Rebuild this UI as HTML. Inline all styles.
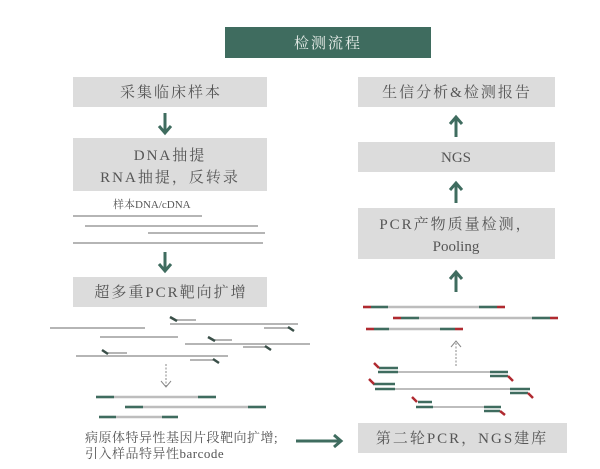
<!DOCTYPE html>
<html><head><meta charset="utf-8"><style>
html,body{margin:0;padding:0;background:#fff;}
svg{display:block;}
text{font-family:"Liberation Serif","Noto Serif CJK SC",serif;fill:#555;}
.b{letter-spacing:2px;}
</style></head><body>
<svg width="600" height="469" viewBox="0 0 600 469" xmlns="http://www.w3.org/2000/svg">
<!-- title -->
<rect x="225" y="27" width="206" height="31" fill="#3f6c5f"/>
<text x="328" y="48" text-anchor="middle" font-size="15" class="b" style="fill:#e6ece8">检测流程</text>

<!-- left boxes -->
<rect x="73" y="77" width="194" height="30" fill="#dcdcdc"/>
<text x="171" y="97" text-anchor="middle" font-size="15" class="b">采集临床样本</text>
<rect x="73" y="138" width="194" height="53" fill="#dcdcdc"/>
<text x="170" y="160" text-anchor="middle" font-size="15" class="b">DNA抽提</text>
<text x="170" y="182" text-anchor="middle" font-size="15" class="b">RNA抽提，反转录</text>
<rect x="73" y="277" width="194" height="30" fill="#dcdcdc"/>
<text x="171" y="297" text-anchor="middle" font-size="15" class="b">超多重PCR靶向扩增</text>

<!-- right boxes -->
<rect x="358" y="77" width="197" height="30" fill="#dcdcdc"/>
<text x="457" y="97" text-anchor="middle" font-size="15" class="b">生信分析&amp;检测报告</text>
<rect x="358" y="142" width="197" height="30" fill="#dcdcdc"/>
<text x="456" y="162" text-anchor="middle" font-size="15">NGS</text>
<rect x="358" y="208" width="197" height="51" fill="#dcdcdc"/>
<text x="456" y="229" text-anchor="middle" font-size="15" class="b">PCR产物质量检测，</text>
<text x="456" y="251" text-anchor="middle" font-size="15">Pooling</text>
<rect x="358" y="423" width="209" height="30" fill="#dcdcdc"/>
<text x="462" y="443" text-anchor="middle" font-size="15" class="b">第二轮PCR，NGS建库</text>

<!-- green arrows -->
<g stroke="#3f6c5f" stroke-width="3" fill="none">
<line x1="165" y1="113" x2="165" y2="132"/><polyline points="159,126 165,133 171,126"/>
<line x1="165" y1="252" x2="165" y2="270"/><polyline points="159,264 165,271 171,264"/>
<line x1="456" y1="137" x2="456" y2="118"/><polyline points="450,124 456,117 462,124"/>
<line x1="456" y1="203" x2="456" y2="184"/><polyline points="450,190 456,183 462,190"/>
<line x1="456" y1="292" x2="456" y2="273"/><polyline points="450,279 456,272 462,279"/>
<line x1="296" y1="441" x2="340" y2="441"/><polyline points="334,435 341,441 334,447"/>
</g>

<!-- sample label and lines -->
<text x="113" y="208" font-size="11">样本DNA/cDNA</text>
<g stroke="#b5b5b5" stroke-width="2">
<line x1="73" y1="216" x2="202" y2="216"/>
<line x1="85" y1="226" x2="258" y2="226"/>
<line x1="148" y1="233" x2="265" y2="233"/>
<line x1="73" y1="243" x2="263" y2="243"/>
</g>

<!-- left multiplex lines -->
<g stroke="#b5b5b5" stroke-width="2">
<line x1="50" y1="328" x2="145" y2="328"/>
<line x1="170" y1="324" x2="298" y2="324"/>
<line x1="177" y1="320" x2="196" y2="320"/>
<line x1="264" y1="328" x2="290" y2="328"/>
<line x1="100" y1="337" x2="178" y2="337"/>
<line x1="185" y1="344" x2="310" y2="344"/>
<line x1="215" y1="340" x2="232" y2="340"/>
<line x1="243" y1="347" x2="265" y2="347"/>
<line x1="76" y1="356" x2="228" y2="356"/>
<line x1="108" y1="353" x2="127" y2="353"/>
<line x1="190" y1="360" x2="213" y2="360"/>
</g>
<g stroke="#3a4f48" stroke-width="2.5">
<line x1="170" y1="317" x2="177" y2="321"/>
<line x1="288" y1="327" x2="294" y2="331"/>
<line x1="208" y1="337" x2="215" y2="341"/>
<line x1="265" y1="346" x2="271" y2="350"/>
<line x1="102" y1="350" x2="108" y2="354"/>
<line x1="213" y1="359" x2="219" y2="363"/>
</g>

<!-- dotted arrows -->
<g stroke="#888" stroke-width="1" fill="none">
<line x1="166" y1="364" x2="166" y2="387" stroke-dasharray="2,1.5"/>
<polyline points="161,381 166,387 171,381"/>
<line x1="456" y1="366" x2="456" y2="342" stroke-dasharray="2,1.5"/>
<polyline points="451,347 456,341 461,347"/>
</g>

<!-- left barcoded lines -->
<g stroke-width="2.5">
<line x1="96" y1="397" x2="216" y2="397" stroke="#bdbdbd"/>
<line x1="96" y1="397" x2="114" y2="397" stroke="#3f6c5f"/><line x1="198" y1="397" x2="216" y2="397" stroke="#3f6c5f"/>
<line x1="125" y1="407" x2="266" y2="407" stroke="#bdbdbd"/>
<line x1="125" y1="407" x2="143" y2="407" stroke="#3f6c5f"/><line x1="248" y1="407" x2="266" y2="407" stroke="#3f6c5f"/>
<line x1="99" y1="417" x2="178" y2="417" stroke="#bdbdbd"/>
<line x1="99" y1="417" x2="116" y2="417" stroke="#3f6c5f"/><line x1="162" y1="417" x2="178" y2="417" stroke="#3f6c5f"/>
</g>
<text x="85" y="442" font-size="13" letter-spacing="0.5">病原体特异性基因片段靶向扩增;</text>
<text x="85" y="458" font-size="13" letter-spacing="0.5">引入样品特异性barcode</text>

<!-- right top library lines -->
<g stroke-width="2.5">
<line x1="363" y1="307" x2="505" y2="307" stroke="#bdbdbd"/>
<line x1="363" y1="307" x2="371" y2="307" stroke="#b02a30"/><line x1="371" y1="307" x2="388" y2="307" stroke="#3f6c5f"/>
<line x1="479" y1="307" x2="497" y2="307" stroke="#3f6c5f"/><line x1="497" y1="307" x2="505" y2="307" stroke="#b02a30"/>
<line x1="393" y1="318" x2="558" y2="318" stroke="#bdbdbd"/>
<line x1="393" y1="318" x2="401" y2="318" stroke="#b02a30"/><line x1="401" y1="318" x2="419" y2="318" stroke="#3f6c5f"/>
<line x1="532" y1="318" x2="550" y2="318" stroke="#3f6c5f"/><line x1="550" y1="318" x2="558" y2="318" stroke="#b02a30"/>
<line x1="366" y1="329" x2="463" y2="329" stroke="#bdbdbd"/>
<line x1="366" y1="329" x2="374" y2="329" stroke="#b02a30"/><line x1="374" y1="329" x2="389" y2="329" stroke="#3f6c5f"/>
<line x1="440" y1="329" x2="455" y2="329" stroke="#3f6c5f"/><line x1="455" y1="329" x2="463" y2="329" stroke="#b02a30"/>
</g>

<!-- right adapter groups -->
<g stroke-width="2.5">
<line x1="378" y1="372" x2="508" y2="372" stroke="#bdbdbd" stroke-width="2"/>
<line x1="378" y1="372" x2="398" y2="372" stroke="#3f6c5f"/><line x1="490" y1="372" x2="508" y2="372" stroke="#3f6c5f"/>
<line x1="379" y1="368" x2="398" y2="368" stroke="#3f6c5f"/><line x1="490" y1="376" x2="508" y2="376" stroke="#3f6c5f"/>
<line x1="374" y1="363" x2="379" y2="368" stroke="#b02a30"/><line x1="508" y1="376" x2="513" y2="381" stroke="#b02a30"/>

<line x1="375" y1="389" x2="530" y2="389" stroke="#bdbdbd" stroke-width="2"/>
<line x1="375" y1="389" x2="395" y2="389" stroke="#3f6c5f"/><line x1="510" y1="389" x2="530" y2="389" stroke="#3f6c5f"/>
<line x1="373" y1="384" x2="395" y2="384" stroke="#3f6c5f"/><line x1="510" y1="393" x2="528" y2="393" stroke="#3f6c5f"/>
<line x1="369" y1="379" x2="374" y2="384" stroke="#b02a30"/><line x1="528" y1="393" x2="533" y2="398" stroke="#b02a30"/>

<line x1="416" y1="407" x2="501" y2="407" stroke="#bdbdbd" stroke-width="2"/>
<line x1="416" y1="407" x2="433" y2="407" stroke="#3f6c5f"/><line x1="484" y1="407" x2="501" y2="407" stroke="#3f6c5f"/>
<line x1="418" y1="402" x2="432" y2="402" stroke="#3f6c5f"/><line x1="484" y1="411" x2="500" y2="411" stroke="#3f6c5f"/>
<line x1="412" y1="397" x2="417" y2="402" stroke="#b02a30"/><line x1="500" y1="411" x2="505" y2="415" stroke="#b02a30"/>
</g>
</svg>
</body></html>
